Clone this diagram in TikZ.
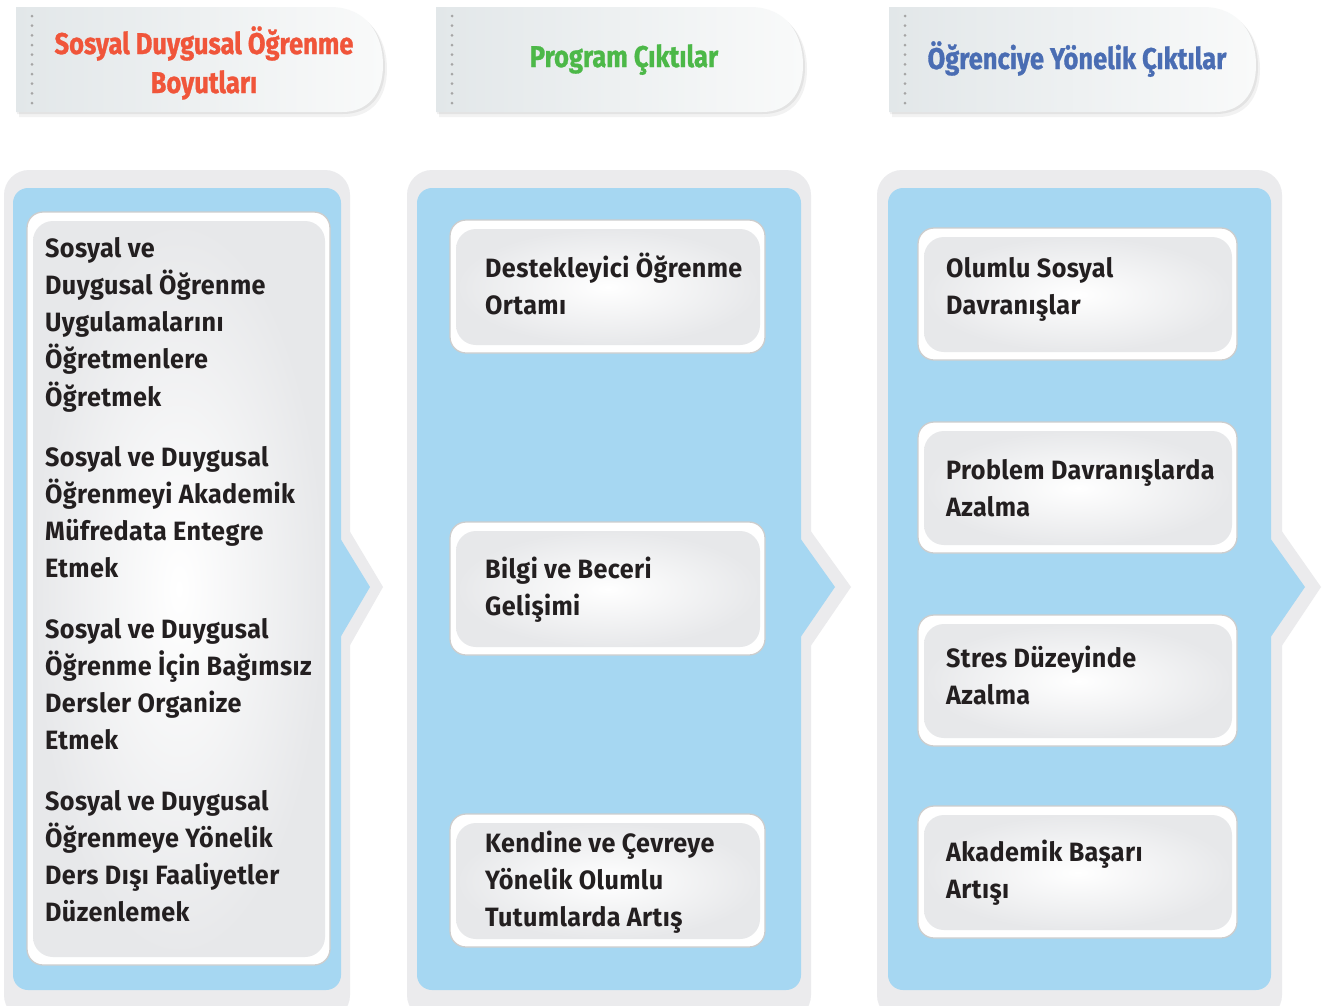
\documentclass[tikz,border=0pt]{standalone}
\usepackage{fontspec}
\setmainfont{Fira Sans}
\newfontfamily\hdrfont[FakeStretch=0.85, FakeBold=1]{Fira Sans}
\newfontfamily\bodyfont[LetterSpace=1.5, FakeStretch=0.95]{Fira Sans}
\definecolor{panelgrey}{HTML}{EBEBED}
\definecolor{panelblue}{HTML}{A6D7F2}
\definecolor{cardgrey}{HTML}{E7E8EA}
\definecolor{cardline}{HTML}{CDCDCD}
\definecolor{txt}{HTML}{231F20}
\definecolor{hdrred}{HTML}{F0553A}
\definecolor{hdrgreen}{HTML}{4CB848}
\definecolor{hdrblue}{HTML}{4A6DB3}
\definecolor{hdrL}{HTML}{E2E7E9}
\definecolor{hdrR}{HTML}{F9FAFA}
\definecolor{dotgrey}{HTML}{A5A5A5}
\tikzset{
  bodytxt/.style={anchor=base west, inner sep=0pt, align=left, text=txt,
    font=\bodyfont\bfseries\fontsize{26.5}{37.3}\selectfont},
  hdrtxt/.style={anchor=base, inner sep=0pt, align=center,
    font=\hdrfont\bfseries\fontsize{30}{39}\selectfont},
}
\newcommand\mkheader[1]{%
  \begin{scope}[xshift=#1pt]
    \fill[black,opacity=0.05] (3,11) -- (317,11) .. controls (355,11) and (371,39) .. (371,69) .. controls (371,99) and (355,117) .. (329,117) -- (3,117) -- cycle;
    \fill[black,opacity=0.06] (1,9) -- (315,9) .. controls (353,9) and (369,37) .. (369,67) .. controls (369,97) and (353,114) .. (327,114) -- (1,114) -- cycle;
    \shade[left color=hdrL, right color=hdrR] (0,7) -- (314,7) .. controls (351,7) and (367,35) .. (367,65) .. controls (367,95) and (351,112) .. (326,112) -- (0,112) -- cycle;
    \foreach \k in {0,...,9} \fill[dotgrey] (16,16+9.67*\k) circle (1.5);
  \end{scope}}
\newcommand\mkcard[4]{%
  \fill[white, draw=cardline, line width=1.3pt, rounded corners=16] (#1,#2) rectangle (#3,#4);
  \shade[inner color=white, outer color=cardgrey, rounded corners=20] (#1+6,#2+9) rectangle (#3-5,#4-8);}
\newcommand\mkpanel[6]{% x1 x2 greytip bx1 bx2 bluetip
  \fill[panelgrey, rounded corners=25] (#1,170) rectangle (#2,1020);
  \fill[panelgrey] (#2-1,530) -- (#3,587) -- (#2-1,647) -- cycle;
  \fill[panelblue, rounded corners=15] (#4,188) rectangle (#5,990);
  \fill[panelblue] (#5-1,538) -- (#6,587) -- (#5-1,638) -- cycle;}
\begin{document}
\begin{tikzpicture}[x=1pt,y=-1pt]
\useasboundingbox (0,0) rectangle (1336,1005);
\fill[white] (0,0) rectangle (1336,1005);
% headers
\mkheader{16}
\mkheader{436}
\mkheader{889}
\node[hdrtxt, text=hdrred] (h1) at (204,93) {Sosyal Duygusal Öğrenme\\Boyutları};
\node[hdrtxt, text=hdrgreen] (h2) at (624,67) {Program Çıktılar};
\node[hdrtxt, text=hdrblue] (h3) at (1077,69) {Öğrenciye Yönelik Çıktılar};
% panels
\mkpanel{4}{350}{383}{13}{341}{370}
\mkpanel{407}{811}{851}{417}{801}{835}
\mkpanel{877}{1282}{1321}{888}{1271}{1305}
% cards
\mkcard{27}{212}{330}{965}
\mkcard{450}{220}{765}{353}
\mkcard{450}{522}{765}{655}
\mkcard{450}{814}{765}{947}
\mkcard{918}{228}{1237}{360}
\mkcard{918}{422}{1237}{553}
\mkcard{918}{615}{1237}{746}
\mkcard{918}{806}{1237}{938}
% texts panel 1 (anchor = baseline of last line)
\node[bodytxt] (a1) at (45,406.2) {Sosyal ve\\Duygusal Öğrenme\\Uygulamalarını\\Öğretmenlere\\Öğretmek};
\node[bodytxt] (a2) at (45,577.9) {Sosyal ve Duygusal\\Öğrenmeyi Akademik\\Müfredata Entegre\\Etmek};
\node[bodytxt] (a3) at (45,749.9) {Sosyal ve Duygusal\\Öğrenme İçin Bağımsız\\Dersler Organize\\Etmek};
\node[bodytxt] (a4) at (45,921.9) {Sosyal ve Duygusal\\Öğrenmeye Yönelik\\Ders Dışı Faaliyetler\\Düzenlemek};
% panel 2
\node[bodytxt] (b1) at (485,314.3) {Destekleyici Öğrenme\\Ortamı};
\node[bodytxt] (b2) at (485,615.3) {Bilgi ve Beceri\\Gelişimi};
\node[bodytxt] (b3) at (485,926.6) {Kendine ve Çevreye\\Yönelik Olumlu\\Tutumlarda Artış};
% panel 3
\node[bodytxt] (c1) at (946,314.3) {Olumlu Sosyal\\Davranışlar};
\node[bodytxt] (c2) at (946,516.3) {Problem Davranışlarda\\Azalma};
\node[bodytxt] (c3) at (946,704.3) {Stres Düzeyinde\\Azalma};
\node[bodytxt] (c4) at (946,898.3) {Akademik Başarı\\Artışı};
\end{tikzpicture}
\end{document}
